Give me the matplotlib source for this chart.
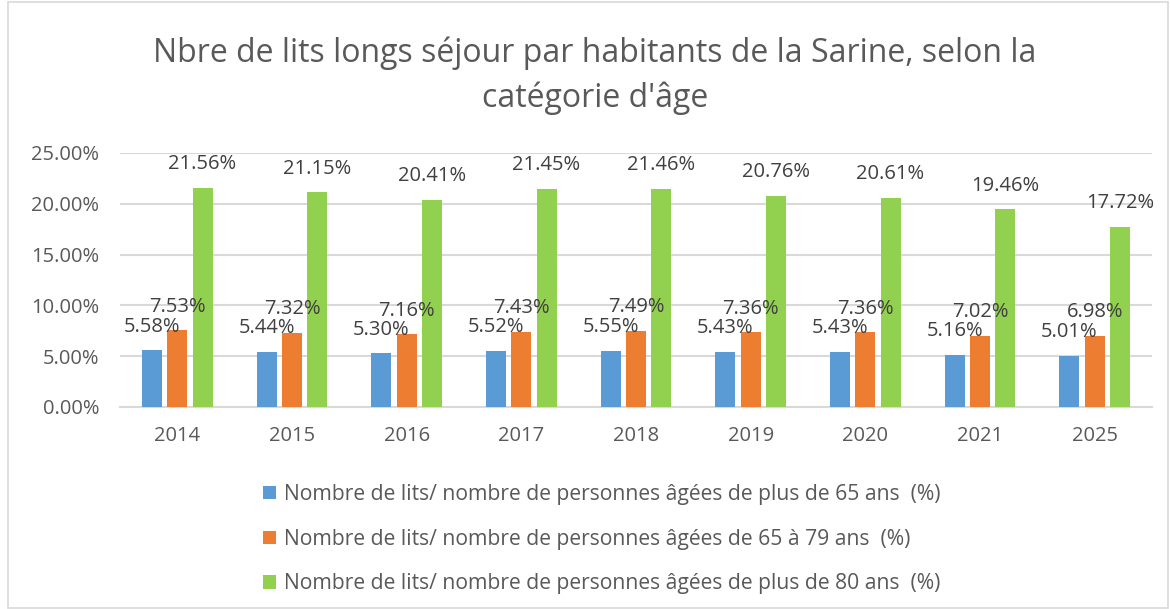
import matplotlib
matplotlib.use("Agg")
import matplotlib.pyplot as plt
import matplotlib.patches as patches
import numpy as np

plt.rcParams['font.family'] = ['Open Sans', 'DejaVu Sans']

years = ['2014', '2015', '2016', '2017', '2018', '2019', '2020', '2021', '2025']
plus65 = [5.58, 5.44, 5.30, 5.52, 5.55, 5.43, 5.43, 5.16, 5.01]
de65a79 = [7.53, 7.32, 7.16, 7.43, 7.49, 7.36, 7.36, 7.02, 6.98]
plus80 = [21.56, 21.15, 20.41, 21.45, 21.46, 20.76, 20.61, 19.46, 17.72]

series_names = [
    'Nombre de lits/ nombre de personnes âgées de plus de 65 ans  (%)',
    'Nombre de lits/ nombre de personnes âgées de 65 à 79 ans  (%)',
    'Nombre de lits/ nombre de personnes âgées de plus de 80 ans  (%)',
]
colors = ['#5B9BD5', '#ED7D31', '#92D050']

fig = plt.figure(figsize=(11.7, 6.09), dpi=100)
ax = fig.add_axes([120 / 1170, 1 - 407 / 609, 1032 / 1170, 254 / 609])

x = np.arange(len(years))
width = 0.175
step = 0.22
for i, (vals, col, name) in enumerate(zip([plus65, de65a79, plus80], colors, series_names)):
    pos = x + (i - 1) * step
    ax.bar(pos, vals, width, color=col, label=name, zorder=3)
    for px, v in zip(pos, vals):
        ax.annotate('%.2f%%' % v, (px, v), xytext=(0, 17), textcoords='offset points',
                    ha='center', va='center', fontsize=14.5, color='#404040', zorder=6 - i)

ax.set_xlim(-0.5, len(years) - 0.5)
ax.set_ylim(0, 25)
ax.set_yticks(np.arange(0, 26, 5))
ax.set_yticklabels(['%.2f%%' % t for t in np.arange(0, 26, 5)])
ax.set_xticks(x)
ax.set_xticklabels(years)
ax.tick_params(axis='both', length=0, labelsize=14.5, labelcolor='#595959')
ax.tick_params(axis='y', pad=15)
ax.tick_params(axis='x', pad=14)
ax.grid(axis='y', color='#D9D9D9', linewidth=1.5, zorder=0)
for s in ['top', 'right', 'left']:
    ax.spines[s].set_visible(False)
ax.spines['bottom'].set_color('#D9D9D9')
ax.spines['bottom'].set_linewidth(1.5)

fig.suptitle("Nbre de lits longs séjour par habitants de la Sarine, selon la\ncatégorie d'âge",
             x=595 / 1170, y=1 - 37 / 609, va='top', fontsize=23, color='#595959',
             linespacing=1.45)

fig.legend(loc='upper center', bbox_to_anchor=(602 / 1170, 1 - 465 / 609), ncol=1,
           frameon=False, fontsize=15.2, labelcolor='#595959', handlelength=0.6,
           handleheight=0.6, handletextpad=0.4, labelspacing=1.12)

fig.patches.append(patches.Rectangle((8 / 1170, 1 / 609), 1160 / 1170, 606 / 609,
                                     transform=fig.transFigure, fill=False,
                                     edgecolor='#D9D9D9', linewidth=1.2))

fig.savefig('out.png', dpi=100)
